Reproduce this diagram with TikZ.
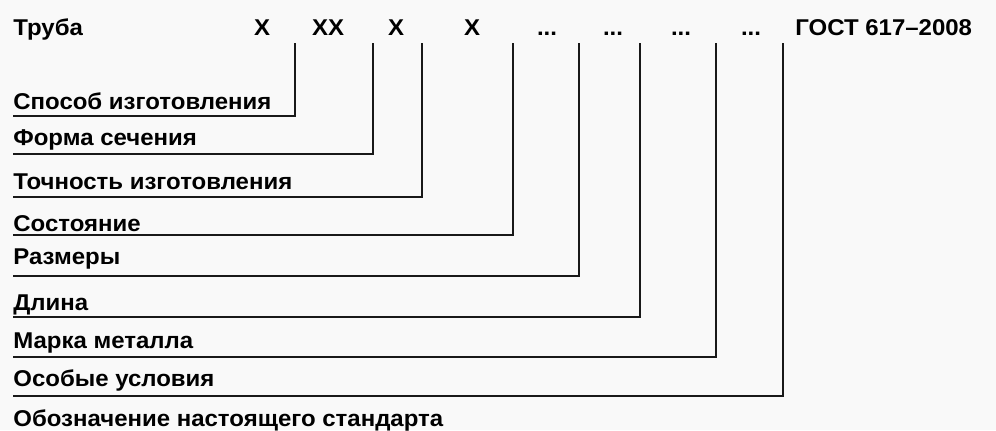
\documentclass[tikz,border=0pt]{standalone}
\usepackage{fontspec}
\setmainfont{Liberation Sans}[FakeStretch=1.05]
\definecolor{paper}{RGB}{249,249,249}

\begin{document}
\begin{tikzpicture}[
  x=0.2mm, y=-0.2mm,
  font=\bfseries\fontsize{13}{15}\selectfont,
  code/.style ={anchor=base, inner sep=0pt},
  lbl/.style  ={anchor=base west, inner sep=0pt},
  lead/.style ={line width=1.1pt, draw=black!90}
]
\fill[paper] (0,0) rectangle (996,430);
\useasboundingbox (0,0) rectangle (996,430);

% designation row
\node[lbl]  (pipe) at (13,35)  {Труба};
\node[code] (c1)   at (262,35) {X};
\node[code] (c2)   at (328,35) {XX};
\node[code] (c3)   at (396,35) {X};
\node[code] (c4)   at (472,35) {X};
\node[code] (c5)   at (547,35) {...};
\node[code] (c6)   at (613,35) {...};
\node[code] (c7)   at (681,35) {...};
\node[code] (c8)   at (751,35) {...};
\node[lbl]  (gost) at (795,35) {ГОСТ 617–2008};

% meanings
\node[lbl] (l1) at (13,109) {Способ изготовления};
\node[lbl] (l2) at (13,145) {Форма сечения};
\node[lbl] (l3) at (13,189) {Точность изготовления};
\node[lbl] (l4) at (13,231) {Состояние};
\node[lbl] (l5) at (13,264) {Размеры};
\node[lbl] (l6) at (13,310) {Длина};
\node[lbl] (l7) at (13,348) {Марка металла};
\node[lbl] (l8) at (13,386) {Особые условия};
\node[lbl] (l9) at (13,426) {Обозначение настоящего стандарта};

\foreach \xv/\yl [count=\i] in {295/116, 373/154, 422/197, 513/235,
                                579/276, 640/317, 716/357, 783/396} {
  \coordinate (t\i) at (\xv,43);
  \draw[lead] (l\i.west |- 0,\yl) -| (t\i);
}
\end{tikzpicture}
\end{document}
